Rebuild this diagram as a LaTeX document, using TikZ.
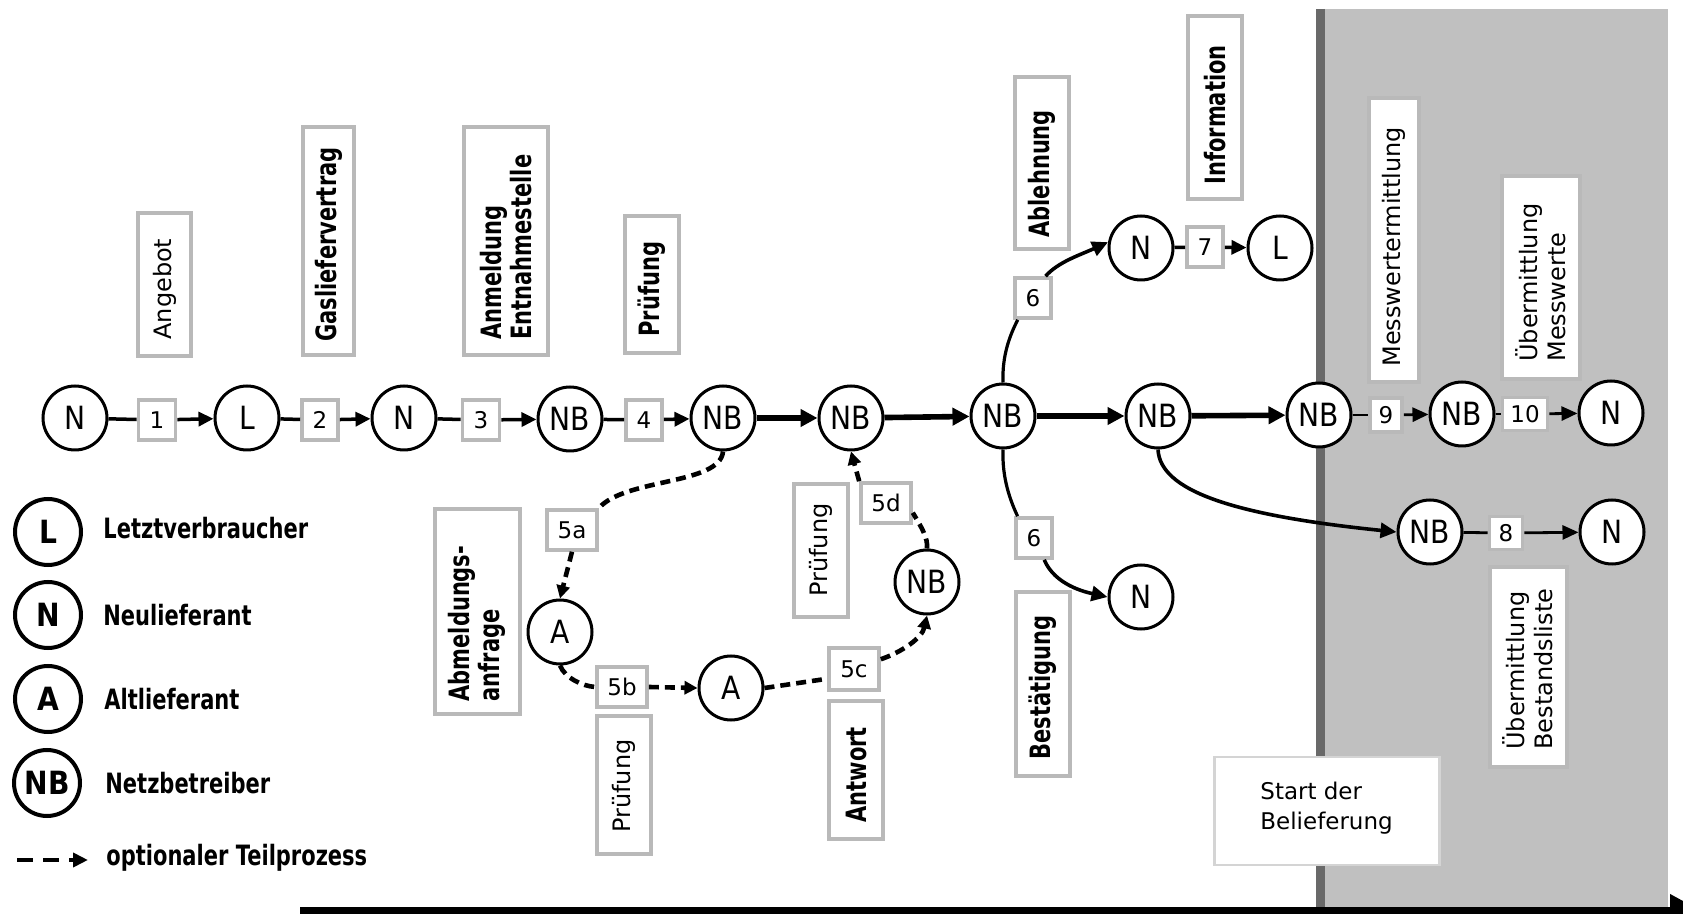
\documentclass[tikz,border=0pt]{standalone}
\usepackage{fontspec}
\setmainfont{DejaVu Sans}
\newfontfamily\cfont[FakeStretch=0.88]{DejaVu Sans}
\newfontfamily\bfont[FakeStretch=0.75]{DejaVu Sans}
\usetikzlibrary{arrows.meta,calc}
\definecolor{boxgray}{RGB}{185,185,185}
\definecolor{lightboxgray}{RGB}{212,212,212}
\definecolor{regiongray}{RGB}{192,192,192}
\definecolor{linegray}{RGB}{105,105,105}
\begin{document}
\begin{tikzpicture}[x=0.5pt,y=-0.5pt,
  circ/.style={circle,draw,line width=1.5pt,fill=white,minimum size=32pt,inner sep=0pt,font=\cfont\fontsize{16}{18}\selectfont},
  legc/.style={circ,line width=2pt,minimum size=33pt,font=\cfont\bfseries\fontsize{16}{18}\selectfont},
  numbox/.style={draw=boxgray,line width=1.8pt,fill=white,inner sep=0pt,font=\fontsize{11.5}{13}\selectfont},
  lblbox/.style={draw=boxgray,line width=2pt,fill=white,inner sep=0pt},
  rtext/.style={rotate=90,anchor=west,inner sep=0pt,align=left,font=\fontsize{12}{14}\selectfont},
  rbold/.style={rotate=90,anchor=west,inner sep=0pt,align=left,font=\bfont\bfseries\fontsize{14}{15}\selectfont},
  legtext/.style={anchor=west,inner sep=0pt,font=\bfont\bfseries\fontsize{14}{16}\selectfont},
  link/.style={line width=1.75pt},
  flow/.style={line width=1.75pt,-{Triangle[length=7.5pt,width=7pt]}},
  heavy/.style={line width=2.8pt,-{Triangle[length=8.5pt,width=8.5pt]}},
  thinlink/.style={line width=1.4pt},
  thinflow/.style={line width=1.4pt,-{Triangle[length=8pt,width=7pt]}},
  curvelink/.style={line width=1.6pt},
  curveflow/.style={line width=1.8pt,-{Triangle[length=8pt,width=7.5pt]}},
  opt/.style={line width=2.3pt,dash pattern=on 5pt off 3pt},
  optflow/.style={opt,-{Triangle[length=6.5pt,width=6.5pt]}},
]
\useasboundingbox (0,0) rectangle (1683,914);

% background region and time axis
\fill[regiongray] (1320,9) rectangle (1668,914);
\coordinate (vl0) at (1320,9);
\coordinate (vl1) at (1320,914);
\draw[linegray,line width=4.5pt] (vl0) -- (vl1);
\coordinate (ax0) at (300,910);
\coordinate (ax1) at (1700,910);
\draw[line width=3.5pt,-{Triangle[length=15pt,width=15pt]}] (ax0) -- (ax1);

% label boxes
\node[lblbox,minimum width=26.5pt,minimum height=71.5pt] (bAng) at (164.5,284.5) {};
\node[rtext] (tAng) at (164.5,340) {Angebot};
\node[lblbox,minimum width=25.5pt,minimum height=114pt] (bGas) at (328.5,241) {};
\node[rbold] (tGas) at (328.5,342) {Gasliefervertrag};
\node[lblbox,minimum width=42pt,minimum height=114pt] (bAnm) at (506,241) {};
\node[rbold] (tAnm) at (506,340) {Anmeldung\\Entnahmestelle};
\node[lblbox,minimum width=27pt,minimum height=68.5pt] (bPr4) at (652,285) {};
\node[rbold] (tPr4) at (652,337) {Prüfung};
\node[lblbox,minimum width=27pt,minimum height=86pt] (bAbl) at (1042,163) {};
\node[rbold] (tAbl) at (1042,238) {Ablehnung};
\node[lblbox,minimum width=27pt,minimum height=91.5pt] (bInf) at (1215,108) {};
\node[rbold] (tInf) at (1215,185) {Information};
\node[lblbox,minimum width=25pt,minimum height=142pt] (bMes) at (1394,240) {};
\node[rtext] (tMes) at (1394,367) {Messwertermittlung};
\node[lblbox,minimum width=39pt,minimum height=101.5pt] (bUeM) at (1541,278) {};
\node[rtext] (tUeM) at (1541,362) {Übermittlung\\Messwerte};
\node[lblbox,minimum width=27pt,minimum height=91.5pt] (bBes) at (1043,684) {};
\node[rbold] (tBes) at (1043,760) {Bestätigung};
\node[lblbox,minimum width=38.5pt,minimum height=100pt] (bUeB) at (1528,667) {};
\node[rtext] (tUeB) at (1528,750) {Übermittlung\\Bestandsliste};
\node[lblbox,minimum width=42.5pt,minimum height=102.5pt] (bAbm) at (477,612) {};
\node[rbold] (tAbm) at (477,702) {Abmeldungs-\\anfrage};
\node[lblbox,minimum width=27pt,minimum height=68.5pt] (bPr5b) at (624,785) {};
\node[rtext] (tPr5b) at (624,833) {Prüfung};
\node[lblbox,minimum width=27pt,minimum height=69pt] (bAnt) at (856,770) {};
\node[rbold] (tAnt) at (856,823) {Antwort};
\node[lblbox,minimum width=27pt,minimum height=66.5pt] (bPr5d) at (821,551) {};
\node[rtext] (tPr5d) at (821,597) {Prüfung};
\node[lblbox,draw=lightboxgray,line width=1.4pt,minimum width=112.5pt,minimum height=54pt] (bStart) at (1327,811) {};
\node[anchor=west,inner sep=0pt,align=left,font=\fontsize{11.5}{15}\selectfont] (tStart) at (1260,808) {Start der\\Belieferung};

% main row circles
\node[circ] (n1) at (75,418) {N};
\node[circ] (n2) at (247,418) {L};
\node[circ] (n3) at (404,418) {N};
\node[circ] (n4) at (570,419) {NB};
\node[circ] (n5) at (723,418) {NB};
\node[circ] (n6) at (851,418) {NB};
\node[circ] (n7) at (1003,416) {NB};
\node[circ] (n8) at (1158,416) {NB};
\node[circ] (n9) at (1319,415) {NB};
\node[circ] (n10) at (1462,414) {NB};
\node[circ] (n11) at (1611,413) {N};
\node[circ] (nu) at (1141,248) {N};
\node[circ] (lu) at (1280,248) {L};
\node[circ] (nl) at (1141,597) {N};
\node[circ] (nr) at (1430,532) {NB};
\node[circ] (nrN) at (1612,532) {N};
\node[circ] (a1) at (560,632) {A};
\node[circ] (a2) at (731,688) {A};
\node[circ] (nb3) at (927,582) {NB};

% number boxes
\node[numbox,minimum width=18.5pt,minimum height=20pt] (b1) at (157,420) {1};
\node[numbox,minimum width=18pt,minimum height=20pt] (b2) at (320,420) {2};
\node[numbox,minimum width=18.5pt,minimum height=20pt] (b3) at (481,420) {3};
\node[numbox,minimum width=18pt,minimum height=20pt] (b4) at (644,420) {4};
\node[numbox,minimum width=25pt,minimum height=20pt] (b5a) at (572,530) {5a};
\node[numbox,minimum width=25pt,minimum height=20pt] (b5b) at (622,687) {5b};
\node[numbox,minimum width=25pt,minimum height=21pt] (b5c) at (854,669) {5c};
\node[numbox,minimum width=25pt,minimum height=20pt] (b5d) at (886,503) {5d};
\node[numbox,minimum width=18pt,minimum height=20pt] (b6a) at (1033,298) {6};
\node[numbox,minimum width=18pt,minimum height=20pt] (b6b) at (1034,538) {6};
\node[numbox,minimum width=18pt,minimum height=20pt] (b7) at (1205,247) {7};
\node[numbox,minimum width=16.5pt,minimum height=16.5pt] (b8) at (1506,533) {8};
\node[numbox,minimum width=16pt,minimum height=17pt] (b9) at (1386,415) {9};
\node[numbox,minimum width=22.5pt,minimum height=16.5pt] (b10) at (1525,414) {10};

% main row connectors
\draw[link] (n1) -- (b1);
\draw[flow] (b1) -- (n2);
\draw[link] (n2) -- (b2);
\draw[flow] (b2) -- (n3);
\draw[link] (n3) -- (b3);
\draw[flow] (b3) -- (n4);
\draw[link] (n4) -- (b4);
\draw[flow] (b4) -- (n5);
\draw[heavy] (n5) -- (n6);
\draw[heavy] (n6) -- (n7);
\draw[heavy] (n7) -- (n8);
\draw[heavy] (n8) -- (n9);
\draw[thinlink] (n9) -- (b9);
\draw[thinflow] (b9) -- (n10);
\draw[thinlink] (n10) -- (b10);
\draw[thinflow] (b10) -- (n11);
\draw[link] (nu) -- (b7);
\draw[flow] (b7) -- (lu);
\draw[thinlink] (nr) -- (b8);
\draw[thinflow] (b8) -- (nrN);

% branches
\draw[curvelink] (n7.north) .. controls (1002,355) and (1010,335) .. (b6a.235);
\draw[curveflow] (b6a.60) .. controls (1058,262) and (1080,255) .. (nu.170);
\draw[curvelink] (n7.south) .. controls (1002,478) and (1010,500) .. (b6b.127);
\draw[curveflow] (b6b.-65) .. controls (1055,585) and (1085,592) .. (nl.west);
\draw[curveflow] (n8.south) .. controls (1160,490) and (1230,515) .. (nr.west);

% optional sub-process
\draw[opt] (n5.south) .. controls (720,485) and (625,478) .. (b5a.north east);
\draw[optflow] (b5a.south) -- (a1.north);
\draw[opt] (a1.south) .. controls (565,678) and (582,686) .. (b5b.west);
\draw[optflow] (b5b.east) -- (a2.west);
\draw[opt] (a2.east) -- (b5c.200);
\draw[optflow] (b5c.20) .. controls (902,652) and (922,638) .. (nb3.south);
\draw[opt] (nb3.north) .. controls (928,538) and (922,528) .. (b5d.-20);
\draw[optflow] (b5d.north west) -- (n6.south);

% legend
\node[legc] (lgL) at (48,532) {L};
\node[legtext] (ltL) at (103,528) {Letztverbraucher};
\node[legc] (lgN) at (48,615) {N};
\node[legtext] (ltN) at (103,615) {Neulieferant};
\node[legc] (lgA) at (48,699) {A};
\node[legtext] (ltA) at (104,699) {Altlieferant};
\node[legc] (lgNB) at (47,783) {NB};
\node[legtext] (ltNB) at (105,783) {Netzbetreiber};
\coordinate (lgs) at (17,860);
\coordinate (lge) at (88,860);
\draw[line width=2pt,dash pattern=on 8pt off 5pt,-{Triangle[length=7.5pt,width=7pt]}] (lgs) -- (lge);
\node[legtext] (ltO) at (106,858) {optionaler Teilprozess};
\end{tikzpicture}
\end{document}
